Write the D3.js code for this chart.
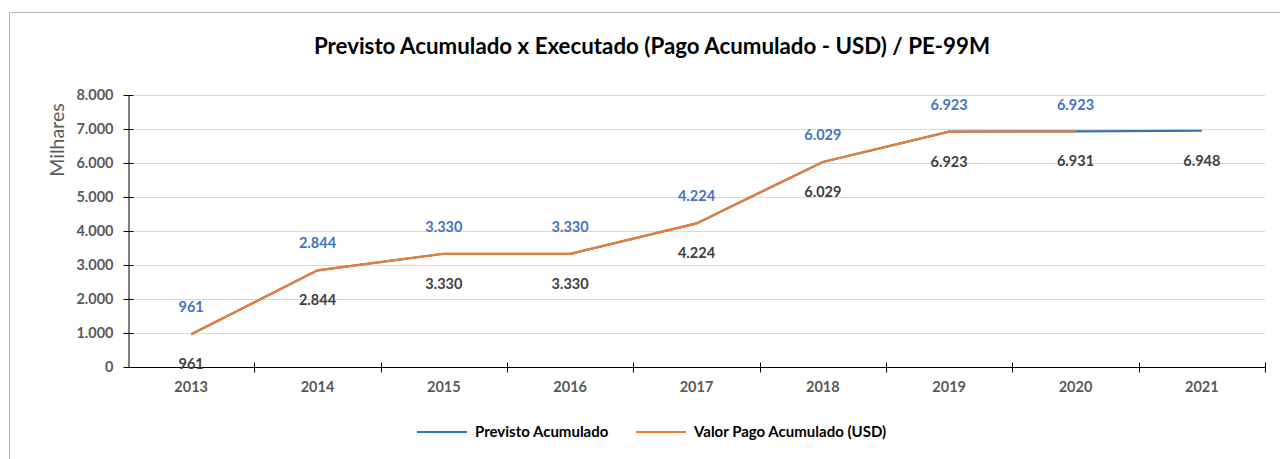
<!DOCTYPE html>
<html>
<head>
<meta charset="utf-8">
<script src="https://cdn.jsdelivr.net/npm/d3@7"></script>
<style>
  body { margin: 0; background: #fff; }
  svg { display: block; font-family: Lato, "Liberation Sans", sans-serif; }
</style>
</head>
<body>
<svg id="chart" width="1280" height="459"></svg>
<script>
// data
var years = ['2013', '2014', '2015', '2016', '2017', '2018', '2019', '2020', '2021'];
var previsto = [961, 2844, 3330, 3330, 4224, 6029, 6923, 6931, 6948];
var pago = [961, 2844, 3330, 3330, 4224, 6029, 6923, 6923];
var yTicks = [0, 1000, 2000, 3000, 4000, 5000, 6000, 7000, 8000];

var BLUE = '#2E75B6',
    ORANGE = '#ED7D31',
    LABEL_BLUE = '#4472C4',
    TEXT = '#595959';

var svg = d3.select('#chart');
var plotL = 128, plotR = 1265, plotT = 95, plotB = 367;

var x = d3.scaleBand().domain(years).range([plotL, plotR]);
var y = d3.scaleLinear().domain([0, 8000]).range([plotB, plotT]);
var fmt = d3.formatLocale({decimal: ',', thousands: '.', grouping: [3], currency: ['', '']}).format(',');

// outer frame (top + left only)
svg.append('path')
    .attr('d', 'M9.5,459 L9.5,12.5 L1280,12.5')
    .attr('fill', 'none')
    .attr('stroke', '#b4b4b4')
    .attr('stroke-width', 1);

svg.append('text')
    .attr('x', 652).attr('y', 54)
    .attr('text-anchor', 'middle')
    .attr('font-size', 22.3).attr('font-weight', 'bold')
    .attr('fill', '#000')
    .text('Previsto Acumulado x Executado (Pago Acumulado - USD) / PE-99M');

// gridlines
svg.append('g').selectAll('line')
    .data(yTicks.filter(function (d) { return d > 0; }))
    .join('line')
    .attr('x1', plotL).attr('x2', plotR)
    .attr('y1', function (d) { return Math.round(y(d)) + 0.5; })
    .attr('y2', function (d) { return Math.round(y(d)) + 0.5; })
    .attr('stroke', '#d9d9d9');

// y axis
var yAxis = svg.append('g')
    .attr('transform', 'translate(' + (plotL + 0.5) + ',0)')
    .call(d3.axisLeft(y).tickValues(yTicks).tickFormat(fmt).tickSizeInner(5).tickSizeOuter(0).tickPadding(10));
yAxis.selectAll('.tick line').attr('x2', 5).attr('x1', -5).attr('stroke', '#000');
yAxis.select('.domain').attr('stroke', '#000');
yAxis.selectAll('text')
    .attr('font-size', 14.5).attr('font-weight', 'bold')
    .attr('fill', TEXT).attr('font-family', 'Lato, sans-serif');

svg.append('text')
    .attr('transform', 'translate(64,140) rotate(-90)')
    .attr('text-anchor', 'middle')
    .attr('font-size', 19.5)
    .attr('fill', TEXT)
    .text('Milhares');

// x axis with ticks between categories
var xg = svg.append('g').attr('transform', 'translate(0,' + (plotB + 0.5) + ')');
xg.append('line').attr('x1', plotL).attr('x2', plotR).attr('stroke', '#000');
xg.selectAll('line.tk')
    .data(years)
    .join('line')
    .attr('class', 'tk')
    .attr('x1', function (d) { return Math.round(x(d) + x.bandwidth()) + 0.5; })
    .attr('x2', function (d) { return Math.round(x(d) + x.bandwidth()) + 0.5; })
    .attr('y1', -5).attr('y2', 5)
    .attr('stroke', '#000');
xg.selectAll('text')
    .data(years)
    .join('text')
    .attr('x', function (d) { return x(d) + x.bandwidth() / 2; })
    .attr('y', 24)
    .attr('text-anchor', 'middle')
    .attr('font-size', 14.5).attr('font-weight', 'bold')
    .attr('fill', TEXT)
    .text(function (d) { return d; });

var cx = function (d, i) { return x(years[i]) + x.bandwidth() / 2; };
var line = d3.line().x(cx).y(function (d) { return y(d); });

svg.append('path').datum(previsto)
    .attr('d', line).attr('fill', 'none')
    .attr('stroke', BLUE).attr('stroke-width', 2.2);
svg.append('path').datum(pago)
    .attr('d', line).attr('fill', 'none')
    .attr('stroke', ORANGE).attr('stroke-width', 2.2);

// data labels
svg.append('g').selectAll('text')
    .data(previsto)
    .join('text')
    .attr('x', cx)
    .attr('y', function (d) { return y(d) + 35; })
    .attr('text-anchor', 'middle')
    .attr('font-size', 14.5).attr('font-weight', 'bold')
    .attr('fill', '#404040')
    .text(fmt);
svg.append('g').selectAll('text')
    .data(pago)
    .join('text')
    .attr('x', cx)
    .attr('y', function (d) { return y(d) - 22; })
    .attr('text-anchor', 'middle')
    .attr('font-size', 14.5).attr('font-weight', 'bold')
    .attr('fill', LABEL_BLUE)
    .text(fmt);

// legend
var legend = [
    {name: 'Previsto Acumulado', color: BLUE, x: 417},
    {name: 'Valor Pago Acumulado (USD)', color: ORANGE, x: 636}
];
var lg = svg.append('g').selectAll('g').data(legend).join('g')
    .attr('transform', function (d) { return 'translate(' + d.x + ',432)'; });
lg.append('line').attr('x1', 0).attr('x2', 50)
    .attr('stroke', function (d) { return d.color; }).attr('stroke-width', 2.2);
lg.append('text').attr('x', 58).attr('y', 5)
    .attr('font-size', 15).attr('font-weight', 'bold')
    .attr('fill', '#000')
    .text(function (d) { return d.name; });
</script>
</body>
</html>
